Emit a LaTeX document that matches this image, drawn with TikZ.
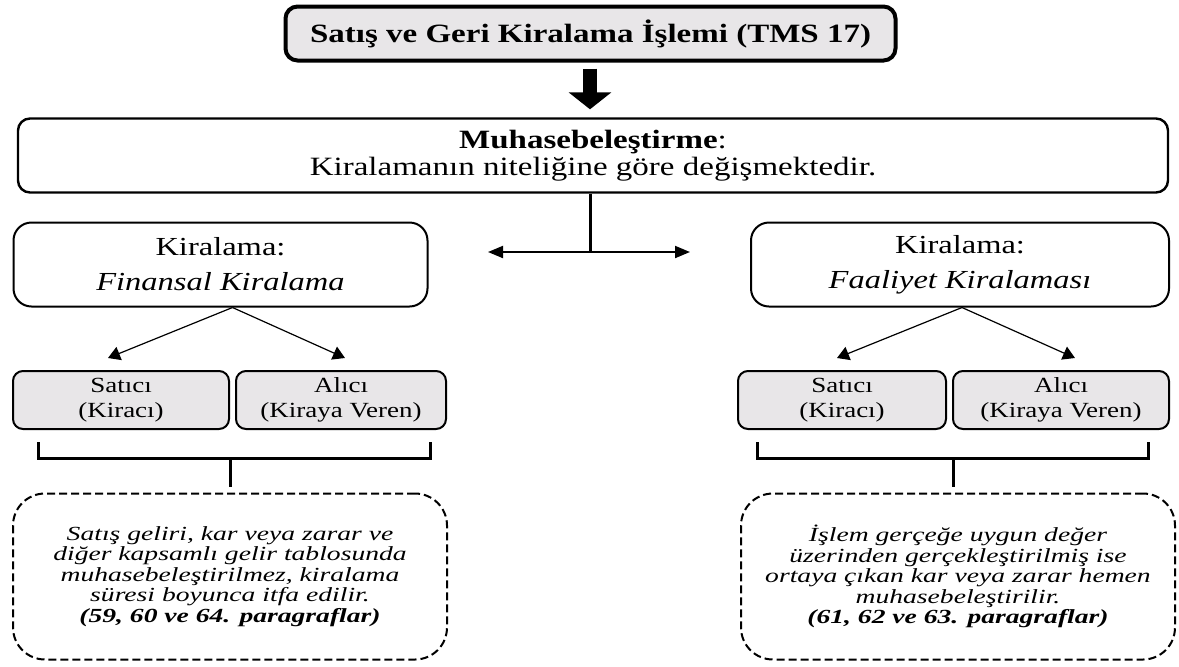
\documentclass[tikz,border=0pt]{standalone}
\usepackage{fontspec}
\setmainfont{Liberation Serif}[FakeStretch=1.25]
\newfontfamily\notefont{Liberation Serif}[FakeStretch=1.38]
\usepackage{xcolor}
\usetikzlibrary{arrows.meta}
\definecolor{boxgray}{RGB}{232,230,232}

\begin{document}
\begin{tikzpicture}[x=0.5pt,y=-0.5pt,
    graybox/.style={draw,fill=boxgray,line width=1pt,rounded corners=5pt,align=center,inner sep=0pt},
    whitebox/.style={draw,fill=white,line width=1pt,rounded corners=9pt,align=center,inner sep=0pt},
    notebox/.style={draw,dash pattern=on 4pt off 2pt,line width=1pt,rounded corners=16pt,align=center,inner sep=0pt,
        minimum width=217pt,minimum height=83pt,font=\notefont\fontsize{10}{10.3}\selectfont\itshape},
    tip/.style={line width=0.6pt,-{Triangle[length=6pt,width=7pt]}},
    brace/.style={line width=1.5pt}]
    \useasboundingbox (0,0) rectangle (1179,666);

    % Title and heading boxes
    \node[graybox,line width=2pt,rounded corners=6pt,minimum width=305pt,minimum height=27pt,
        font=\fontsize{13.2}{15}\selectfont\bfseries] (title) at (590.5,33.5) {Satış ve Geri Kiralama İşlemi (TMS 17)};
    \node[whitebox,line width=1.2pt,rounded corners=6pt,minimum width=575pt,minimum height=37pt,
        font=\fontsize{13.2}{13.6}\selectfont] (mhs) at (593,155.5) {\textbf{Muhasebeleştirme}:\\Kiralamanın niteliğine göre değişmektedir.};
    \draw[line width=7pt,-{Triangle[length=8.5pt,width=21pt]},shorten <=3pt,shorten >=4pt] (title.south -| 590,0) -- (mhs.north -| 590,0);

    % Split into the two kinds of lease
    \coordinate (split) at (590,252);
    \coordinate (splitl) at (488,252);
    \coordinate (splitr) at (690,252);
    \draw[line width=1.5pt] (mhs.south -| split) -- (split);
    \draw[line width=1pt,{Triangle[length=7.5pt,width=6pt]}-{Triangle[length=7.5pt,width=6pt]}] (splitl) -- (splitr);

    \node[whitebox,minimum width=207pt,minimum height=42pt,font=\fontsize{13}{17.5}\selectfont] (fin) at (220.5,264.5) {Kiralama:\\\textit{Finansal Kiralama}};
    \node[whitebox,minimum width=209pt,minimum height=42pt,font=\fontsize{13}{17.5}\selectfont] (fop) at (960,264.5) {Kiralama:\\\textit{Faaliyet Kiralaması}};

    % Seller and buyer boxes
    \node[graybox,minimum width=108pt,minimum height=29pt,font=\fontsize{10.8}{12.5}\selectfont] (fsat) at (121,400) {Satıcı\\(Kiracı)};
    \node[graybox,minimum width=105pt,minimum height=29pt,font=\fontsize{10.8}{12.5}\selectfont] (falc) at (341,400) {Alıcı\\(Kiraya Veren)};
    \node[graybox,minimum width=104pt,minimum height=29pt,font=\fontsize{10.8}{12.5}\selectfont] (osat) at (842,400) {Satıcı\\(Kiracı)};
    \node[graybox,minimum width=108pt,minimum height=29pt,font=\fontsize{10.8}{12.5}\selectfont] (oalc) at (1061,400) {Alıcı\\(Kiraya Veren)};

    \draw[tip] ([xshift=6pt]fin.south) -- ([xshift=-6.5pt,yshift=6pt]fsat.north);
    \draw[tip] ([xshift=6pt]fin.south) -- ([xshift=2pt,yshift=6pt]falc.north);
    \draw[tip] ([xshift=1pt]fop.south) -- ([xshift=-2.5pt,yshift=6pt]osat.north);
    \draw[tip] ([xshift=1pt]fop.south) -- ([xshift=7pt,yshift=6pt]oalc.north);

    % Notes under the braces
    \node[notebox] (fnote) at (230,576.5) {Satış geliri, kar veya zarar ve\\diğer kapsamlı gelir tablosunda\\muhasebeleştirilmez, kiralama\\süresi boyunca itfa edilir.\\\textbf{(59, 60 ve 64. paragraflar)}};
    \node[notebox] (onote) at (958,576.5) {İşlem gerçeğe uygun değer\\üzerinden gerçekleştirilmiş ise\\ortaya çıkan kar veya zarar hemen\\muhasebeleştirilir.\\\textbf{(61, 62 ve 63. paragraflar)}};

    % Braces
    \draw[brace] (38,442) |- (430,458) -- (430,442);
    \draw[brace] (fnote.north |- 0,458) -- ([yshift=3pt]fnote.north);
    \draw[brace] (757,442) |- (1148,458) -- (1148,442);
    \draw[brace] (953,458) -- (953,487);
\end{tikzpicture}
\end{document}
